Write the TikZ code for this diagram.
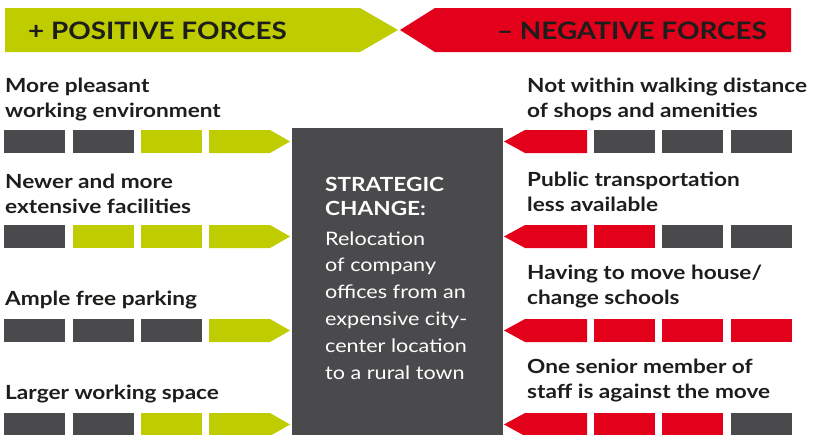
\documentclass[tikz,border=0pt]{standalone}
\usepackage{fontspec}
\setmainfont{Lato}[FakeStretch=1.16]
\definecolor{lime}{HTML}{BFCD00}
\definecolor{redc}{HTML}{E2001A}
\definecolor{grayc}{HTML}{4A4A4C}
\definecolor{inkc}{HTML}{1D1D1B}
\tikzset{
  lbl/.style={anchor=base west, inner sep=0pt, align=left, text=inkc,
    font=\bfseries\fontsize{19.5}{25}\selectfont},
  hdr/.style={inner sep=0pt, text=inkc, font=\bfseries\fontsize{24}{28}\selectfont},
}
\newcommand{\lbar}[3]{\fill[#3] (#1,#2) rectangle ++(61,23);}
\begin{document}
\begin{tikzpicture}[x=1pt,y=-1pt]
\useasboundingbox (0,0) rectangle (817,434);
% headers
\fill[lime] (5,8) -- (360,8) -- (398,30) -- (360,52) -- (5,52) -- cycle;
\fill[redc] (400,30) -- (435,8) -- (791,8) -- (791,52) -- (435,52) -- cycle;
\node[hdr, anchor=base west] (pos) at (28,39) {+ POSITIVE FORCES};
\node[hdr, anchor=base east] (neg) at (767,39) {– NEGATIVE FORCES};
% center box
\fill[grayc] (292,128) rectangle (503,436);
\node[anchor=base west, inner sep=0pt, align=left, text=white,
  font=\bfseries\fontsize{19.5}{24}\selectfont] (title) at (325,215) {STRATEGIC\\CHANGE:};
\node[anchor=base west, inner sep=0pt, align=left, text=white,
  font=\fontsize{18.6}{26.8}\selectfont] (body) at (325,379)
  {Relocation\\of company\\offices from an\\expensive city-\\center location\\to a rural town};
% left labels (anchor = baseline of last line)
\node[lbl] (l1) at (5,117) {More pleasant\\working environment};
\node[lbl] (l2) at (5,213) {Newer and more\\extensive facilities};
\node[lbl] (l3) at (5,305) {Ample free parking};
\node[lbl] (l4) at (5,399) {Larger working space};
% right labels
\node[lbl] (r1) at (527,117) {Not within walking distance\\of shops and amenities};
\node[lbl] (r2) at (527,211) {Public transportation\\less available};
\node[lbl] (r3) at (527,304) {Having to move house/\\change schools};
\node[lbl] (r4) at (527,398) {One senior member of\\staff is against the move};
% left bars
\foreach \y/\a/\b/\c in {130/grayc/grayc/lime, 225/grayc/lime/lime, 319/grayc/grayc/grayc, 413/grayc/grayc/lime}{
  \lbar{4}{\y}{\a}
  \lbar{73}{\y}{\b}
  \lbar{141}{\y}{\c}
  \fill[lime] (209,\y) -- (270,\y) -- (290,\y+11.5) -- (270,\y+23) -- (209,\y+23) -- cycle;
}
% right bars
\foreach \y/\a/\b/\c in {130/grayc/grayc/grayc, 225/redc/grayc/grayc, 319/redc/redc/redc, 413/redc/redc/grayc}{
  \fill[redc] (504,\y+11.5) -- (525,\y) -- (587,\y) -- (587,\y+23) -- (525,\y+23) -- cycle;
  \lbar{594}{\y}{\a}
  \lbar{662}{\y}{\b}
  \lbar{731}{\y}{\c}
}
\end{tikzpicture}
\end{document}
